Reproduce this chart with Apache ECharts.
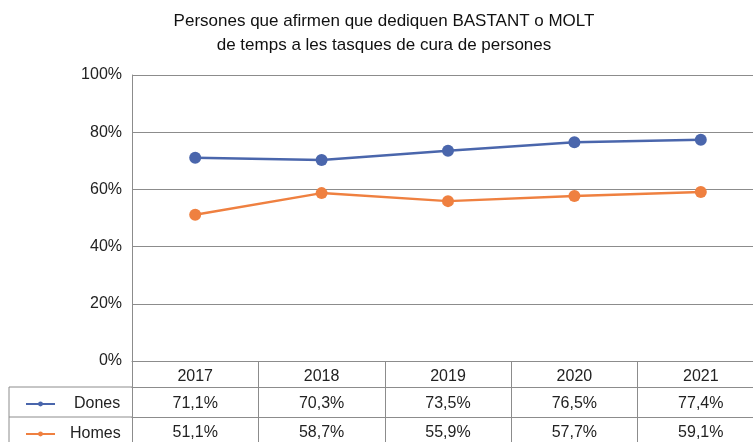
<!DOCTYPE html>
<html>
<head>
<meta charset="utf-8">
<script src="https://cdn.jsdelivr.net/npm/echarts@6/dist/echarts.min.js"></script>
<style>html,body{margin:0;padding:0;background:#fff;overflow:hidden;}#c{width:764px;height:442px;}</style>
</head>
<body>
<div id="c"></div>
<script>
const years = ['2017', '2018', '2019', '2020', '2021'];
const dones = [71.1, 70.3, 73.5, 76.5, 77.4];
const homes = [51.1, 58.7, 55.9, 57.7, 59.1];
const yTicks = [0, 20, 40, 60, 80, 100];
const titleText = 'Persones que afirmen que dediquen BASTANT o MOLT\nde temps a les tasques de cura de persones';

const FONT = '"Liberation Sans", Arial, sans-serif';
const GRID_COLOR = '#8c8c8c';
const BLUE = '#4a66ac';
const ORANGE = '#ef8040';
const fmt = v => v.toFixed(1).replace('.', ',') + '%';

const chart = echarts.init(document.getElementById('c'), null, {renderer: 'canvas'});
const tableAxis = (offset, arr, margin) => ({
  type: 'category', data: years, position: 'bottom', offset: offset, gridIndex: 0,
  boundaryGap: true,
  axisLine: {show: true, lineStyle: {color: GRID_COLOR, width: 1}},
  axisTick: {show: false},
  axisLabel: {margin: margin, color: '#222', fontSize: 16, fontFamily: FONT,
    formatter: (v, i) => arr ? fmt(arr[i]) : v}
});

chart.setOption({
  animation: false,
  backgroundColor: '#fff',
  title: {
    text: titleText, left: 379, top: 4, textAlign: 'center',
    textStyle: {fontSize: 17, fontWeight: 'normal', color: '#111', fontFamily: FONT, lineHeight: 24}
  },
  grid: {left: 132, top: 75, right: 0, height: 286, containLabel: false},
  legend: [
    {data: ['Dones'], left: 20, top: 391, itemWidth: 29, itemHeight: 6, itemGap: 0,
     textStyle: {fontSize: 16, fontFamily: FONT, color: '#222', padding: [0, 0, 0, 14]}},
    {data: ['Homes'], left: 20, top: 421, itemWidth: 29, itemHeight: 6, itemGap: 0,
     textStyle: {fontSize: 16, fontFamily: FONT, color: '#222', padding: [0, 0, 0, 10]}}
  ],
  xAxis: [
    {
      type: 'category', data: years, position: 'bottom', boundaryGap: true,
      axisLine: {show: true, lineStyle: {color: GRID_COLOR, width: 1}},
      axisTick: {show: true, alignWithLabel: false, inside: false, length: 82,
        lineStyle: {color: GRID_COLOR, width: 1}},
      axisLabel: {margin: 8, color: '#222', fontSize: 16, fontFamily: FONT},
      splitLine: {show: false}
    },
    tableAxis(26, dones, 9),
    tableAxis(56, homes, 8)
  ],
  yAxis: {
    type: 'value', min: 0, max: 100, interval: 20,
    axisLine: {show: true, lineStyle: {color: GRID_COLOR, width: 1}},
    axisTick: {show: false},
    axisLabel: {margin: 10, color: '#222', fontSize: 16, fontFamily: FONT,
      formatter: v => yTicks.includes(v) ? v + '%' : ''},
    splitLine: {show: true, lineStyle: {color: GRID_COLOR, width: 1}}
  },
  graphic: [
    {type: 'line', shape: {x1: 9, y1: 387, x2: 132, y2: 387}, style: {stroke: GRID_COLOR, lineWidth: 1}},
    {type: 'line', shape: {x1: 9, y1: 417, x2: 132, y2: 417}, style: {stroke: GRID_COLOR, lineWidth: 1}},
    {type: 'line', shape: {x1: 9, y1: 387, x2: 9, y2: 442}, style: {stroke: GRID_COLOR, lineWidth: 1}}
  ],
  series: [
    {name: 'Dones', type: 'line', data: dones, xAxisIndex: 0, symbol: 'circle', symbolSize: 12,
     lineStyle: {color: BLUE, width: 2.5}, itemStyle: {color: BLUE}},
    {name: 'Homes', type: 'line', data: homes, xAxisIndex: 0, symbol: 'circle', symbolSize: 12,
     lineStyle: {color: ORANGE, width: 2.5}, itemStyle: {color: ORANGE}}
  ]
});
</script>
</body>
</html>
